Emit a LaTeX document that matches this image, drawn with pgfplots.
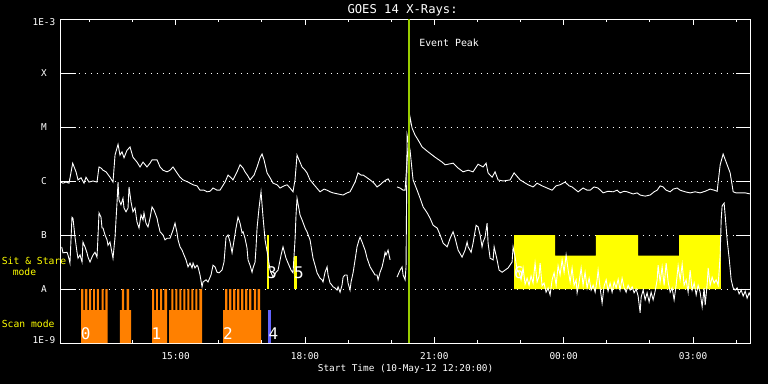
\documentclass[border=0pt]{standalone}
\usepackage{fontspec}
\setmainfont{DejaVu Sans Mono}
\usepackage{pgfplots}
\pgfplotsset{compat=1.18}
\definecolor{scanorange}{RGB}{255,128,0}
\definecolor{scanblue}{RGB}{100,100,255}
\definecolor{ssyellow}{RGB}{255,255,0}
\definecolor{peakgreen}{RGB}{153,204,0}
\begin{document}
\begin{tikzpicture}[x=1pt,y=1pt]
\fill[black] (0,0) rectangle (768,384);
\begin{axis}[
  at={(60.7pt,41pt)}, anchor=south west,
  scale only axis, width=689.8pt, height=324pt,
  xmin=0, xmax=960, ymin=-9, ymax=-3,
  clip=false,
  axis line style={white, line width=0.9pt},
  tick align=inside,
  xtick={160,340,520,700,880},
  xticklabels={15:00,18:00,21:00,00:00,03:00},
  minor xtick={40,100,220,280,400,460,580,640,760,820,940},
  ytick={-9,-8,-7,-6,-5,-4,-3},
  yticklabels={\raisebox{3pt}[\height][\depth]{1E-9},A,B,C,M,X,\raisebox{-3.5pt}[\height][\depth]{1E-3}},
  xtick style={white, line width=0.9pt, /pgfplots/major tick length=6pt, /pgfplots/minor tick length=3.3pt},
  ytick style={white, line width=0.9pt, /pgfplots/major tick length=15pt},
  ymajorgrids,
  major grid style={white, line width=0.8pt, dash pattern=on 0.9pt off 5.1pt},
  /pgf/number format/assume math mode=true,
  xticklabel style={white, font=\fontsize{9.4}{11}\selectfont, anchor=base, yshift=-16.3pt},
  yticklabel style={white, font=\fontsize{9.4}{11}\selectfont, anchor=center, xshift=-16.7pt},
  every axis title shift=0pt,
  title={GOES 14 X-Rays:},
  title style={white, font=\fontsize{12.2}{14}\selectfont, at={(axis description cs:0.5,1)}, anchor=base, yshift=5.3pt, xshift=-3pt},
  xlabel={Start Time (10-May-12 12:20:00)},
  xlabel style={white, font=\fontsize{9.4}{11}\selectfont, at={(axis description cs:0.5,0)}, anchor=base, yshift=-28.7pt},
]
% Sit & Stare (yellow)
\addplot[fill=ssyellow, draw=none, const plot] coordinates {(631.0,-8) (631.0,-7) (688.1,-7.383) (744.7,-7) (803.6,-7.383) (860.7,-7) (918.7,-8)} -- cycle;
\addplot[fill=ssyellow, draw=none] coordinates {(287.2,-8) (287.2,-7) (290.0,-7) (290.0,-8)} -- cycle;
\addplot[fill=ssyellow, draw=none] coordinates {(325.2,-8) (325.2,-7.389) (328.5,-7.389) (328.5,-8)} -- cycle;
% Scan mode (orange)
\addplot[fill=scanorange, draw=none, const plot] coordinates {(28.3,-9) (28.3,-8) (31.5,-8.389) (33.8,-8) (37.0,-8.389) (39.4,-8) (42.2,-8.389) (45.0,-8) (47.7,-8.389) (50.5,-8) (53.3,-8.389) (57.1,-8) (59.9,-8.389) (62.1,-8) (65.4,-9)} -- cycle;
\addplot[fill=scanorange, draw=none, const plot] coordinates {(82.5,-9) (82.5,-8.389) (85.3,-8) (88.1,-8.389) (91.9,-8) (95.1,-8.389) (97.9,-9)} -- cycle;
\addplot[fill=scanorange, draw=none, const plot] coordinates {(127.1,-9) (127.1,-8) (129.9,-8.389) (132.7,-8) (135.4,-8.389) (138.3,-8) (141.0,-8.389) (144.2,-8) (148.0,-9)} -- cycle;
\addplot[fill=scanorange, draw=none, const plot] coordinates {(150.8,-9) (150.8,-8.389) (153.9,-8) (156.8,-8.389) (159.5,-8) (162.3,-8.389) (165.1,-8) (167.9,-8.389) (170.7,-8) (173.5,-8.389) (176.2,-8) (179.0,-8.389) (181.8,-8) (184.6,-8.389) (187.4,-8) (190.2,-8.389) (193.0,-8) (196.7,-9)} -- cycle;
\addplot[fill=scanorange, draw=none, const plot] coordinates {(225.9,-9) (225.9,-8.389) (228.7,-8) (231.9,-8.389) (234.3,-8) (237.5,-8.389) (239.8,-8) (243.0,-8.389) (245.4,-8) (248.6,-8.389) (251.0,-8) (254.2,-8.389) (256.5,-8) (259.8,-8.389) (262.1,-8) (265.3,-8.389) (268.7,-8) (271.9,-8.389) (274.2,-8) (277.4,-8.389) (278.8,-9)} -- cycle;
\addplot[fill=scanblue, draw=none] coordinates {(289.0,-9) (289.0,-8.389) (292.7,-8.389) (292.7,-9)} -- cycle;
% GOES long channel
\addplot[white, line width=0.9pt] coordinates {(0,-6.02) (3.2,-6.04) (7.4,-6.02) (11.6,-6.04) (16.7,-5.67) (21.3,-5.83) (24.1,-5.98) (28.3,-5.94) (32.4,-6.04) (35.2,-5.93) (39.4,-6.02) (45.0,-6.00) (50.5,-6.02) (53.3,-5.74) (56.1,-5.76) (58.9,-5.80) (63.1,-5.83) (68.6,-5.93) (72.8,-6.02) (75.6,-5.52) (79.8,-5.32) (82.5,-5.52) (85.3,-5.46) (88.1,-5.57) (92.3,-5.43) (96.5,-5.37) (100.6,-5.56) (106.2,-5.65) (110.4,-5.74) (114.6,-5.65) (120.1,-5.74) (124.3,-5.67) (127.1,-5.61) (134.1,-5.61) (138.3,-5.74) (142.4,-5.80) (148.0,-5.83) (152.2,-5.80) (156.3,-5.74) (161.9,-5.85) (166.1,-5.93) (170.3,-5.98) (177.2,-6.02) (184.2,-6.07) (189.7,-6.09) (193.9,-6.17) (199.5,-6.17) (203.7,-6.20) (207.8,-6.19) (212.0,-6.13) (217.6,-6.17) (221.7,-6.17) (228.7,-6.02) (232.9,-5.89) (237.1,-5.94) (239.8,-5.98) (245.4,-5.83) (249.6,-5.70) (253.8,-5.76) (256.5,-5.83) (260.7,-5.91) (263.5,-5.98) (269.1,-5.89) (273.3,-5.74) (277.4,-5.57) (280.2,-5.50) (283.0,-5.61) (287.2,-5.85) (291.4,-5.94) (295.5,-6.04) (301.1,-6.07) (305.3,-6.13) (310.8,-6.09) (315.0,-6.07) (319.2,-6.13) (323.3,-6.20) (326.1,-5.98) (328.9,-5.52) (331.7,-5.61) (335.9,-5.74) (340.1,-5.80) (342.8,-5.85) (347.0,-5.98) (352.6,-6.07) (360.9,-6.20) (366.5,-6.15) (370.7,-6.17) (374.9,-6.20) (379.0,-6.22) (386.0,-6.24) (393.0,-6.26) (398.5,-6.22) (402.7,-6.20) (409.7,-6.02) (413.8,-5.85) (418.0,-5.89) (420.8,-5.89) (426.4,-5.94) (430.6,-5.98) (436.1,-6.04) (440.3,-6.11) (444.5,-6.07) (448.6,-6.02) (452.8,-5.98) (455.6,-5.96) (458.4,-6.02)};
\addplot[white, line width=0.9pt] coordinates {(468.1,-6.11) (472.3,-6.13) (476.5,-6.17) (479.3,-6.17) (482.1,-5.61) (486.2,-4.82) (489.0,-5.02) (493.2,-5.15) (497.4,-5.24) (503.0,-5.37) (511.3,-5.46) (521.1,-5.56) (530.8,-5.65) (535.0,-5.70) (546.1,-5.67) (553.1,-5.76) (560.0,-5.83) (567.0,-5.80) (573.9,-5.83) (580.9,-5.69) (587.8,-5.74) (592.0,-5.67) (594.8,-5.85) (600.4,-5.93) (604.5,-5.83) (608.7,-5.98) (615.7,-6.00) (625.4,-5.98) (631.0,-5.85) (639.4,-5.98) (650.5,-6.07) (657.5,-6.11) (663.0,-6.04) (670.0,-6.09) (676.9,-6.13) (683.9,-6.17) (689.4,-6.09) (695.0,-6.07) (702.0,-6.02) (707.5,-6.09) (711.7,-6.11) (720.1,-6.20) (727.0,-6.13) (732.6,-6.17) (736.8,-6.17) (742.3,-6.11) (747.9,-6.13) (754.9,-6.22) (761.8,-6.19) (768.8,-6.20) (774.4,-6.17) (778.5,-6.22) (784.1,-6.19) (788.3,-6.20) (796.6,-6.24) (802.2,-6.22) (806.4,-6.26) (813.4,-6.28) (820.3,-6.26) (825.9,-6.20) (830.1,-6.17) (834.3,-6.09) (838.4,-6.11) (842.6,-6.17) (848.2,-6.20) (852.4,-6.15) (857.9,-6.13) (862.1,-6.17) (869.0,-6.20) (876.0,-6.22) (883.0,-6.20) (889.9,-6.22) (896.9,-6.19) (903.8,-6.15) (909.4,-6.17) (913.6,-6.19) (915.0,-6.02) (917.8,-5.70) (921.9,-5.50) (927.5,-5.70) (931.7,-5.85) (935.9,-6.20) (940.0,-6.22) (945.6,-6.22) (952.6,-6.22) (960,-6.24)};
% GOES short channel
\addplot[white, line width=0.9pt] coordinates {(1.4,-7.22) (3.2,-7.33) (8.8,-7.32) (10.2,-7.37) (12.9,-7.52) (15.7,-6.67) (17.1,-6.69) (19.9,-7.04) (22.7,-7.32) (24.1,-7.43) (26.9,-7.37) (29.7,-7.50) (31.0,-7.13) (33.8,-7.22) (36.6,-7.33) (38.0,-7.41) (40.8,-7.50) (43.6,-7.41) (45.0,-7.37) (47.7,-7.32) (50.5,-7.41) (51.9,-7.04) (53.3,-6.59) (56.1,-6.67) (57.5,-6.87) (58.9,-6.87) (61.7,-7.00) (64.5,-7.09) (65.8,-7.19) (68.6,-7.13) (71.4,-7.33) (72.8,-7.43) (75.6,-7.04) (78.4,-6.39) (79.8,-6.02) (81.1,-6.35) (83.9,-6.44) (86.7,-6.32) (88.1,-6.50) (90.9,-6.57) (93.7,-6.50) (95.1,-6.11) (97.9,-6.39) (100.6,-6.57) (103.4,-6.50) (106.2,-6.76) (109.0,-6.87) (111.8,-6.63) (114.6,-6.72) (115.9,-6.59) (118.7,-6.78) (121.5,-6.85) (124.3,-6.69) (127.1,-6.48) (129.9,-6.54) (134.1,-6.69) (135.4,-6.78) (138.3,-6.94) (142.4,-7.00) (145.2,-7.09) (148.0,-7.06) (152.2,-7.06) (156.3,-6.91) (159.1,-6.78) (161.9,-6.96) (163.3,-7.09) (166.1,-7.22) (168.9,-7.28) (171.6,-7.37) (174.4,-7.46) (177.2,-7.59) (180.0,-7.52) (182.8,-7.61) (184.2,-7.52) (186.9,-7.61) (189.7,-7.56) (191.1,-7.59) (193.9,-7.74) (196.7,-7.96) (198.1,-7.87) (202.3,-7.83) (205.0,-7.87) (209.2,-7.74) (212.0,-7.56) (214.8,-7.59) (217.6,-7.69) (220.4,-7.70) (224.5,-7.65) (227.3,-7.50) (230.1,-7.04) (232.9,-7.00) (235.7,-7.13) (238.5,-7.33) (239.8,-7.22) (244.0,-6.87) (246.8,-6.67) (249.6,-6.78) (252.4,-6.96) (253.8,-6.94) (256.5,-7.06) (259.3,-7.24) (260.7,-7.46) (263.5,-7.56) (266.3,-7.69) (267.7,-7.61) (270.5,-7.50) (271.8,-7.24) (273.3,-6.87) (276.0,-6.50) (278.8,-6.20) (281.6,-6.67) (284.4,-7.09) (288.6,-7.41) (291.4,-7.65) (295.5,-7.78) (299.7,-7.69) (302.5,-7.65) (306.7,-7.37) (309.4,-7.22) (313.6,-7.43) (316.4,-7.52) (320.6,-7.65) (323.3,-7.70) (326.1,-7.09) (327.5,-6.63) (328.9,-6.32) (333.1,-6.63) (335.9,-6.72) (340.1,-6.87) (342.8,-6.94) (347.0,-7.09) (351.2,-7.43) (354.0,-7.56) (356.8,-7.70) (360.9,-7.80) (363.7,-7.83) (365.1,-7.87) (367.9,-7.69) (370.7,-7.59) (372.1,-7.74) (374.9,-7.89) (377.6,-7.93) (379.0,-7.96) (381.8,-7.98) (384.6,-8.02) (386.0,-7.96) (388.8,-8.06) (391.5,-7.93) (393.0,-7.78) (395.7,-7.74) (398.5,-7.74) (399.9,-7.89) (402.7,-8.02) (404.1,-7.87) (406.9,-7.70) (409.7,-7.46) (412.4,-7.22) (415.2,-7.09) (416.6,-7.04) (419.4,-7.13) (423.6,-7.28) (426.4,-7.43) (430.6,-7.59) (433.3,-7.65) (437.5,-7.74) (440.3,-7.74) (441.7,-7.83) (444.5,-7.69) (447.3,-7.59) (450.0,-7.43) (451.4,-7.32) (452.8,-7.37) (455.6,-7.28) (458.4,-7.46)};
\addplot[white, line width=0.9pt] coordinates {(468.1,-7.78) (472.3,-7.65) (475.1,-7.59) (476.5,-7.74) (479.3,-7.83) (480.6,-7.59) (482.1,-5.15) (486.2,-5.43) (489.0,-5.80) (490.4,-5.98) (496.0,-6.17) (500.2,-6.32) (504.4,-6.48) (510.0,-6.59) (514.1,-6.69) (518.3,-6.82) (523.9,-6.87) (528.1,-7.00) (532.2,-7.15) (537.8,-7.22) (542.0,-7.06) (546.1,-6.94) (548.9,-7.06) (553.1,-7.28) (558.6,-7.41) (562.8,-7.28) (565.6,-7.13) (567.0,-7.22) (571.2,-7.32) (573.9,-7.15) (578.1,-6.82) (580.9,-6.85) (583.7,-7.00) (586.4,-7.22) (587.8,-7.13) (590.6,-7.04) (593.4,-6.78) (594.8,-7.15) (597.6,-7.43) (601.8,-7.46) (603.2,-7.22) (607.3,-7.46) (610.1,-7.65) (614.3,-7.69) (618.5,-7.65) (622.7,-7.61) (628.2,-7.50) (629.6,-7.22) (632.4,-7.41) (635.2,-7.65) (637.9,-7.69) (640.7,-7.83) (643.5,-7.61) (646.3,-7.91) (649.1,-7.80) (651.8,-7.93) (654.6,-7.76) (657.4,-7.89) (660.2,-7.52) (663.0,-7.87) (665.8,-7.76) (667.2,-7.52) (669.9,-7.94) (672.7,-7.89) (675.5,-8.06) (678.3,-7.98) (681.1,-8.11) (683.9,-7.83) (686.7,-7.70) (689.5,-7.93) (692.2,-7.57) (695.0,-7.74) (697.8,-7.46) (700.6,-7.69) (703.4,-7.37) (706.2,-7.65) (709.0,-7.87) (711.7,-7.61) (714.5,-7.93) (717.3,-7.83) (718.7,-8.07) (721.5,-7.87) (724.3,-7.61) (727.0,-7.93) (729.8,-7.69) (732.6,-7.98) (735.4,-7.80) (738.2,-8.02) (741.0,-7.93) (743.8,-8.06) (746.5,-7.83) (747.9,-7.65) (750.7,-7.98) (753.5,-8.26) (756.3,-7.94) (759.1,-7.83) (761.8,-8.04) (764.6,-7.89) (767.4,-8.06) (770.2,-7.87) (773.0,-7.98) (775.8,-7.82) (778.5,-8.02) (781.3,-7.80) (784.1,-7.98) (786.9,-8.06) (789.7,-7.93) (792.5,-8.02) (795.3,-7.96) (798.0,-8.07) (800.8,-8.00) (803.6,-8.13) (806.4,-8.44) (807.8,-8.15) (810.6,-8.02) (813.4,-8.20) (816.1,-8.07) (818.9,-8.24) (821.7,-8.06) (824.5,-8.20) (827.3,-8.04) (830.1,-7.83) (831.4,-7.56) (834.2,-7.87) (837.0,-7.59) (839.8,-7.93) (842.6,-7.52) (845.4,-7.87) (848.2,-8.06) (850.9,-7.98) (853.7,-8.20) (856.5,-7.93) (859.3,-7.57) (862.1,-7.83) (864.9,-7.54) (867.6,-7.93) (870.4,-7.83) (873.2,-8.06) (876.0,-7.65) (878.8,-8.02) (881.6,-7.89) (884.4,-8.11) (887.1,-7.93) (889.9,-8.06) (892.7,-8.33) (895.5,-7.98) (896.9,-8.30) (899.7,-7.91) (901.1,-7.61) (903.8,-7.93) (906.6,-7.78) (909.4,-7.89) (912.2,-7.83) (915.0,-7.93) (917.8,-7.37) (919.2,-6.72) (920.5,-6.46) (923.3,-6.41) (924.7,-6.63) (927.5,-7.09) (930.3,-7.43) (933.1,-7.83) (935.9,-7.98) (938.6,-8.02) (941.4,-7.98) (944.2,-8.09) (947.0,-8.02) (949.8,-8.13) (952.6,-8.04) (955.3,-8.17) (958.1,-8.07) (960,-8.13)};
% Event peak
\addplot[peakgreen, line width=2pt] coordinates {(484.8,-9) (484.8,-3)};
\node[white, font=\fontsize{9.9}{12}\selectfont, anchor=base west, inner sep=0pt] at (axis cs:498.8,-3.513) {Event Peak};
% numbers
\node[white, font=\fontsize{16}{18}\selectfont, anchor=base, inner sep=0pt] at (axis cs:34.8,-8.931) {0};
\node[white, font=\fontsize{16}{18}\selectfont, anchor=base, inner sep=0pt] at (axis cs:133.4,-8.931) {1};
\node[white, font=\fontsize{16}{18}\selectfont, anchor=base, inner sep=0pt] at (axis cs:232.9,-8.931) {2};
\node[white, font=\fontsize{16}{18}\selectfont, anchor=base, inner sep=0pt] at (axis cs:296.2,-8.931) {4};
\node[white, font=\fontsize{16}{18}\selectfont, anchor=base, inner sep=0pt] at (axis cs:294.1,-7.802) {3};
\node[white, font=\fontsize{16}{18}\selectfont, anchor=base, inner sep=0pt] at (axis cs:331.7,-7.802) {5};
\node[white, font=\fontsize{16}{18}\selectfont, anchor=base, inner sep=0pt] at (axis cs:637.9,-7.802) {6};
\end{axis}
\node[ssyellow, font=\fontsize{9.7}{12}\selectfont, anchor=base west, inner sep=0pt] at (1.7,120) {Sit \& Stare};
\node[ssyellow, font=\fontsize{9.7}{12}\selectfont, anchor=base, inner sep=0pt] at (24.5,109) {mode};
\node[ssyellow, font=\fontsize{9.7}{12}\selectfont, anchor=base west, inner sep=0pt] at (1.7,57) {Scan mode};
\pgfresetboundingbox
\path[use as bounding box] (0,0) rectangle (768,384);
\end{tikzpicture}
\end{document}
